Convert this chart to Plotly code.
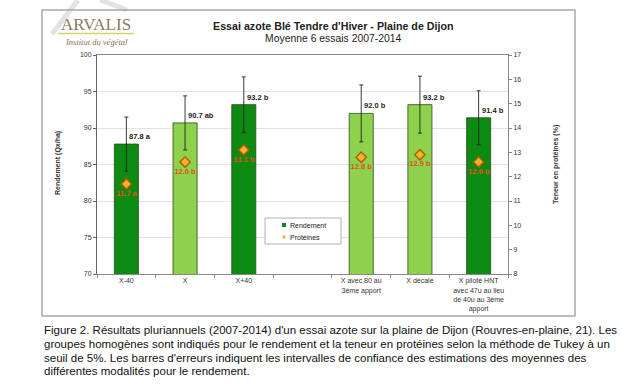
import plotly.graph_objects as go

# ---------------- data ----------------
categories = ["X-40", "X", "X+40", " ",
              "X avec 80 au<br>3ème apport",
              "X décalé",
              "X piloté HNT<br>avec 47u au lieu<br>de 40u au 3ème<br>apport"]
rendement = [87.8, 90.7, 93.2, None, 92.0, 93.2, 91.4]
ic_rendement = [3.7, 3.7, 3.8, None, 3.9, 3.9, 3.7]
groupes_rdt = ["a", "ab", "b", None, "b", "b", "b"]
proteines = [11.7, 12.6, 13.1, None, 12.8, 12.9, 12.6]
groupes_prot = ["a", "b", "b", None, "b", "b", "b"]
teinte = ["fonce", "clair", "fonce", None, "clair", "clair", "fonce"]
legende = ["Rendement", "Protéines"]

DARK = "#0d8a12"
LIGHT = "#8ed14c"
GOLD = "#f3b22e"
FONT = "Liberation Sans"

# plot area in pixels (for paper coords of decorations)
L, R, T, B = 97, 508, 55, 274
def px(x):
    return (x - L) / (R - L)
def py(y):
    return (B - y) / (B - T)

bar_colors = [DARK if t == "fonce" else (LIGHT if t == "clair" else "rgba(0,0,0,0)") for t in teinte]

fig = go.Figure()
fig.add_trace(go.Bar(
    x=categories, y=rendement, name=legende[0],
    marker=dict(color=bar_colors, line=dict(color="#2a4a20", width=0.8)),
    width=0.41,
    error_y=dict(type="data", array=ic_rendement, visible=True,
                 color="#222222", thickness=0.9, width=2),
    showlegend=False, hoverinfo="skip",
))

prot_text = [f"{v:.1f} {g}" if v is not None else "" for v, g in zip(proteines, groupes_prot)]
fig.add_trace(go.Scatter(
    x=categories, y=proteines, yaxis="y2", name=legende[1],
    mode="markers+text", text=prot_text, textposition="bottom center",
    textfont=dict(family=FONT, size=7.5, color="#e2501c", weight="bold"),
    marker=dict(symbol="diamond", size=8, color=GOLD,
                line=dict(color="#b35a00", width=1.4)),
    showlegend=False,
))

annotations = []
for c, v, g in zip(categories, rendement, groupes_rdt):
    if v is None:
        continue
    annotations.append(dict(x=c, y=v, xref="x", yref="y", text=f"<b>{v:.1f} {g}</b>",
                            showarrow=False, xanchor="left", yanchor="bottom",
                            xshift=1, yshift=1,
                            font=dict(family=FONT, size=7.5, color="#222222")))

# titles
annotations += [
    dict(x=px(333), y=py(26), xref="paper", yref="paper", xanchor="center", yanchor="middle",
         text="<b>Essai azote Blé Tendre d'Hiver - Plaine de Dijon</b>",
         showarrow=False, font=dict(family=FONT, size=10.7, color="#222222")),
    dict(x=px(333), y=py(38), xref="paper", yref="paper", xanchor="center", yanchor="middle",
         text="Moyenne 6 essais 2007-2014",
         showarrow=False, font=dict(family=FONT, size=10.4, color="#222222")),
    dict(x=px(58), y=py(163), xref="paper", yref="paper", textangle=-90,
         xanchor="center", yanchor="middle",
         text="<b>Rendement (Qx/ha)</b>", showarrow=False,
         font=dict(family=FONT, size=7, color="#333333")),
    dict(x=px(556), y=py(165), xref="paper", yref="paper", textangle=-90,
         xanchor="center", yanchor="middle",
         text="<b>Teneur en protéines (%)</b>", showarrow=False,
         font=dict(family=FONT, size=7, color="#333333")),
    # logo
    dict(x=px(96), y=py(25), xref="paper", yref="paper", xanchor="center", yanchor="middle",
         text="ARVALIS", showarrow=False,
         font=dict(family="Liberation Serif", size=17, color="#8c7b5c")),
    dict(x=px(96), y=py(42), xref="paper", yref="paper", xanchor="center", yanchor="middle",
         text="<i>Institut du végétal</i>", showarrow=False,
         font=dict(family="Liberation Serif", size=8.5, color="#8a6e5a")),
    # legend texts
    dict(x=px(288), y=py(225), xref="paper", yref="paper", xanchor="left", yanchor="middle",
         text=legende[0], showarrow=False, font=dict(family=FONT, size=7, color="#222222")),
    dict(x=px(288), y=py(237), xref="paper", yref="paper", xanchor="left", yanchor="middle",
         text=legende[1], showarrow=False, font=dict(family=FONT, size=7, color="#222222")),
]

caption = [
    "Figure 2. Résultats pluriannuels (2007-2014) d'un essai azote sur la plaine de Dijon (Rouvres-en-plaine, 21). Les",
    "groupes homogènes sont indiqués pour le rendement et la teneur en protéines selon la méthode de Tukey à un",
    "seuil de 5%. Les barres d'erreurs indiquent les intervalles de confiance des estimations des moyennes des",
    "différentes modalités pour le rendement.",
]
for i, line in enumerate(caption):
    annotations.append(dict(x=px(42), y=py(330 + 13.8 * i), xref="paper", yref="paper",
                            text=line, showarrow=False, xanchor="left", yanchor="middle",
                            font=dict(family=FONT, size=11.5, color="#111111")))

shapes = [
    dict(type="rect", xref="paper", yref="paper",
         x0=px(42), x1=px(575), y0=py(316), y1=py(10),
         line=dict(color="#a8a8a8", width=1.5), layer="below"),
    # faint watermark strokes
    dict(type="line", xref="paper", yref="paper",
         x0=px(78), x1=px(52), y0=py(0), y1=py(34),
         line=dict(color="rgba(160,160,160,0.3)", width=5), layer="below"),
    dict(type="line", xref="paper", yref="paper",
         x0=px(100), x1=px(127), y0=py(0), y1=py(10),
         line=dict(color="rgba(160,160,160,0.3)", width=5), layer="below"),
    # logo swoosh
    dict(type="line", xref="paper", yref="paper",
         x0=px(58), x1=px(134), y0=py(33.5), y1=py(33.5),
         line=dict(color="#c9d96a", width=1.5)),
    # manual legend
    dict(type="rect", xref="paper", yref="paper",
         x0=px(265), x1=px(341), y0=py(244), y1=py(218),
         line=dict(color="#b0b0b0", width=1), fillcolor="white"),
    dict(type="rect", xref="paper", yref="paper",
         x0=px(282), x1=px(286), y0=py(227), y1=py(223),
         line=dict(width=0), fillcolor=DARK),
    dict(type="rect", xref="paper", yref="paper",
         x0=px(282.5), x1=px(285.5), y0=py(238.5), y1=py(235.5),
         line=dict(width=0), fillcolor=GOLD),
]

fig.update_layout(
    width=622, height=386,
    margin=dict(l=L, r=622 - R, t=T, b=386 - B),
    paper_bgcolor="white", plot_bgcolor="white",
    font=dict(family=FONT, size=7, color="#333333"),
    showlegend=False,
    xaxis=dict(type="category", categoryorder="array", categoryarray=categories,
               showline=True, linecolor="#888888", linewidth=1, mirror=True,
               ticks="outside", tickson="boundaries", ticklen=3, tickcolor="#888888",
               tickangle=0,
               tickfont=dict(family=FONT, size=7, color="#333333"),
               showgrid=False, zeroline=False, fixedrange=True),
    yaxis=dict(range=[70, 100], dtick=5, showline=True, linecolor="#666666", linewidth=1,
               ticks="outside", ticklen=3, tickcolor="#666666",
               showgrid=True, gridcolor="#e2e2e2", gridwidth=1, zeroline=False,
               tickfont=dict(family=FONT, size=7, color="#333333")),
    yaxis2=dict(range=[8, 17], dtick=1, overlaying="y", side="right",
                showline=True, linecolor="#888888", linewidth=1,
                ticks="outside", ticklen=3, tickcolor="#888888",
                showgrid=False, zeroline=False,
                tickfont=dict(family=FONT, size=7, color="#333333")),
    annotations=annotations, shapes=shapes,
)

fig.write_html("out.html")
